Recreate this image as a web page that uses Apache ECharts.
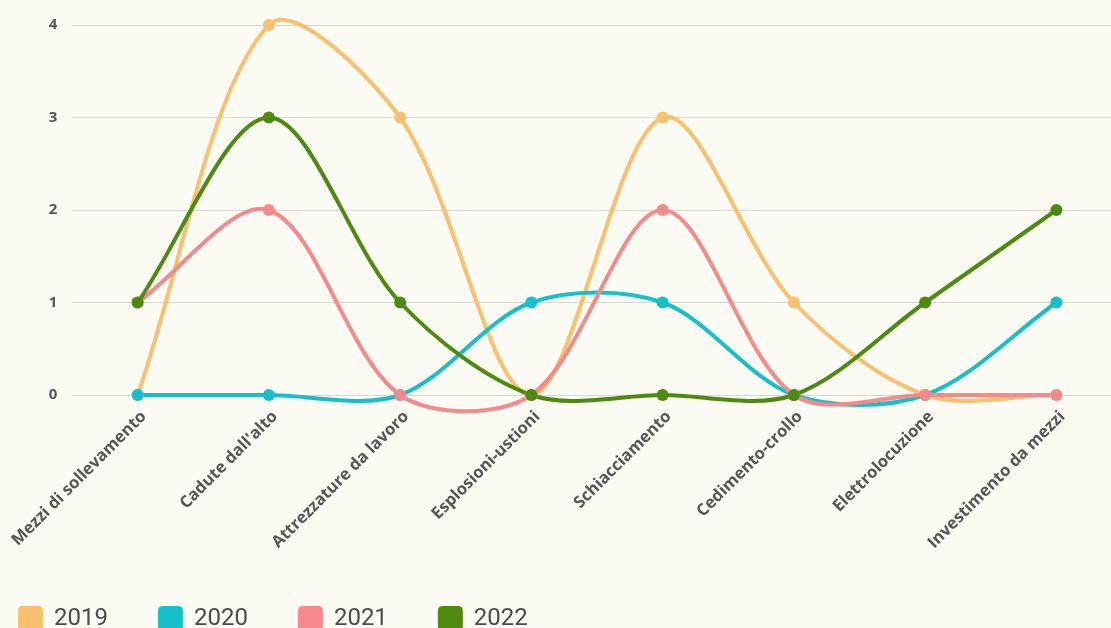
<!DOCTYPE html>
<html><head><meta charset="utf-8">
<script src="https://cdn.jsdelivr.net/npm/echarts@6/dist/echarts.min.js"></script>
<style>html,body{margin:0;padding:0;background:#fcfcf4;}#c{width:1111px;height:628px;}</style>
</head><body><div id="c"></div>
<script>
const categories = ["Mezzi di sollevamento","Cadute dall'alto","Attrezzature da lavoro","Esplosioni-ustioni","Schiacciamento","Cedimento-crollo","Elettrolocuzione","Investimento da mezzi"];
const seriesNames = ["2019","2020","2021","2022"];
const v2019 = [0,4,3,0,3,1,0,0];
const v2020 = [0,0,0,1,1,0,0,1];
const v2021 = [1,2,0,0,2,0,0,0];
const v2022 = [1,3,1,0,0,0,1,2];
const yTicks = [0,1,2,3,4];
const colors = ["#f8c06f","#16bfca","#f58a8d","#4f8a10"];
const values = [v2019,v2020,v2021,v2022];
const TENSION = 0.32;

function ctrl(pts, j) {
  const mid = pts[j];
  const first = pts[Math.max(j-1,0)];
  const after = pts[Math.min(j+1,pts.length-1)];
  const d01 = Math.hypot(mid[0]-first[0], mid[1]-first[1]);
  const d12 = Math.hypot(after[0]-mid[0], after[1]-mid[1]);
  let s01 = d01/(d01+d12), s12 = d12/(d01+d12);
  if (!isFinite(s01)) s01 = 0; if (!isFinite(s12)) s12 = 0;
  const fa = TENSION*s01, fb = TENSION*s12;
  const dx = after[0]-first[0], dy = after[1]-first[1];
  return {prev:[mid[0]-fa*dx, mid[1]-fa*dy], next:[mid[0]+fb*dx, mid[1]+fb*dy]};
}

const series = [];
seriesNames.forEach((n,k)=>{
  const vals = values[k];
  series.push({
    name: n, type: 'custom', clip: false, z: 2,
    itemStyle: {color: colors[k]},
    data: vals.slice(0,-1).map((v,i)=>[i,v]),
    renderItem: function(params, api){
      const i = params.dataIndex;
      const pts = vals.map((v,j)=>api.coord([j,v]));
      const c0 = ctrl(pts,i), c1 = ctrl(pts,i+1);
      return {type:'bezierCurve', shape:{
        x1:pts[i][0], y1:pts[i][1], x2:pts[i+1][0], y2:pts[i+1][1],
        cpx1:c0.next[0], cpy1:c0.next[1], cpx2:c1.prev[0], cpy2:c1.prev[1]},
        style:{stroke: colors[k], lineWidth: 4, fill: null, lineCap:'round'}};
    }
  });
  series.push({
    name: n, type: 'line', data: vals, z: 2,
    symbol: 'circle', symbolSize: 12, showAllSymbol: true,
    lineStyle: {width: 0, opacity: 0},
    itemStyle: {color: colors[k]}
  });
});

const chart = echarts.init(document.getElementById('c'));
chart.setOption({
  backgroundColor: '#fcfcf4',
  animation: false,
  grid: {left: 72, top: 25, right: -11, bottom: 233, containLabel: false, outerBoundsMode: 'none'},
  legend: {
    left: 13, top: 601, itemWidth: 25, itemHeight: 25, itemGap: 50,
    icon: 'path://M5,0 L20,0 Q25,0 25,5 L25,20 Q25,25 20,25 L5,25 Q0,25 0,20 L0,5 Q0,0 5,0 Z',
    textStyle: {fontFamily: 'Roboto', fontSize: 24, color: '#4a4a4a', padding: [0,0,0,6]},
    data: seriesNames
  },
  xAxis: {
    type: 'category', data: categories, boundaryGap: true,
    axisLine: {show: false}, axisTick: {show: false},
    axisLabel: {rotate: 45, interval: 0, margin: 13, verticalAlign: 'top', fontFamily: 'Open Sans', fontWeight: 'bold', fontSize: 16.5, color: '#555'}
  },
  yAxis: {
    type: 'value', min: 0, max: 4, interval: 1,
    axisLine: {show: false}, axisTick: {show: false},
    axisLabel: {margin: 19, fontFamily: 'Open Sans', fontWeight: 'bold', fontSize: 15, color: '#555', align: 'center'},
    splitLine: {lineStyle: {color: '#d8d8d2', width: 1}}
  },
  series: series
});
</script></body></html>
